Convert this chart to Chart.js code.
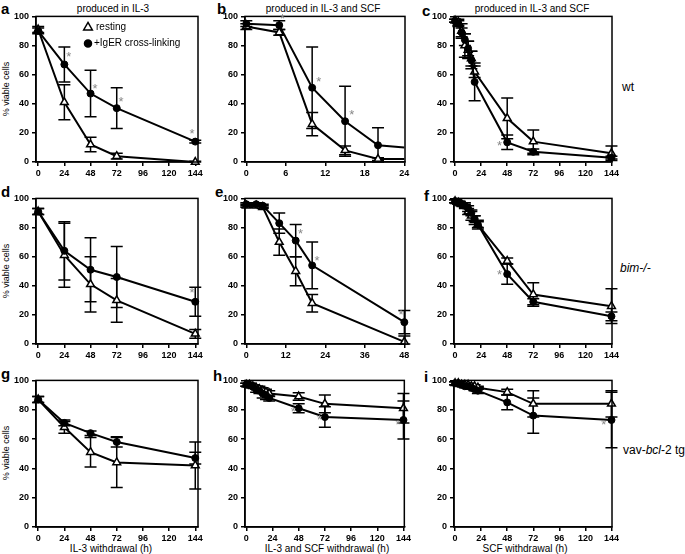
<!DOCTYPE html>
<html>
<head>
<meta charset="utf-8">
<script src="https://cdn.jsdelivr.net/npm/chart.js@4.4.1/dist/chart.umd.min.js"></script>
<style>
body{margin:0;background:#fff;width:685px;height:554px;position:relative;overflow:hidden;font-family:"Liberation Sans",Arial,sans-serif;color:#000}
canvas{position:absolute}
.t{position:absolute;white-space:nowrap;font-size:10px;line-height:11px}
.lab{position:absolute;font-size:15px;font-weight:bold;line-height:15px}
.yt{position:absolute;white-space:nowrap;font-size:9px;line-height:10px;transform:translate(-50%,-50%) rotate(-90deg)}
</style>
</head>
<body>

<div class="lab" style="left:1px;top:1px">a</div>
<div class="lab" style="left:217px;top:1px">b</div>
<div class="lab" style="left:422px;top:3px">c</div>
<div class="lab" style="left:1px;top:184px">d</div>
<div class="lab" style="left:215px;top:184px">e</div>
<div class="lab" style="left:424px;top:188px">f</div>
<div class="lab" style="left:1px;top:366px">g</div>
<div class="lab" style="left:213px;top:368px">h</div>
<div class="lab" style="left:424px;top:369px">i</div>

<div class="t" style="left:113px;top:3px;transform:translateX(-50%)">produced in IL-3</div>
<div class="t" style="left:323px;top:3px;transform:translateX(-50%)">produced in IL-3 and SCF</div>
<div class="t" style="left:532px;top:3px;transform:translateX(-50%)">produced in IL-3 and SCF</div>

<div class="yt" style="left:6px;top:89px">% viable cells</div>
<div class="yt" style="left:6px;top:271px">% viable cells</div>
<div class="yt" style="left:6px;top:453px">% viable cells</div>

<div class="t" style="left:111px;top:543px;transform:translateX(-50%)">IL-3 withdrawal (h)</div>
<div class="t" style="left:327px;top:543px;transform:translateX(-50%)">IL-3 and SCF withdrawal (h)</div>
<div class="t" style="left:525px;top:543px;transform:translateX(-50%)">SCF withdrawal (h)</div>

<div class="t" style="left:622px;top:81px;font-size:12px;line-height:13px">wt</div>
<div class="t" style="left:620px;top:262px;font-size:12px;line-height:13px;font-style:italic">bim-/-</div>
<div class="t" style="left:623px;top:444px;font-size:12px;line-height:13px">vav-<i>bcl</i>-2 tg</div>

<script>
// tick labels
const xTicks144 = [0, 24, 48, 72, 96, 120, 144];
const xTicks24 = [0, 6, 12, 18, 24];
const xTicks48 = [0, 12, 24, 36, 48];
const yTicks = [0, 20, 40, 60, 80, 100];

// a - wt, IL-3
const aX = [0, 24, 48, 72, 144];
const aRest = [91, 41, 12, 4, 0];
const aRestErr = [2, 12, 5, 2, 0.5];
const aIgE = [90, 67, 47, 37, 14];
const aIgEErr = [2, 12, 16, 14, 1];
const aStars = [[28, 74], [52, 52], [76, 43], [141, 21]];

// b - wt, IL-3 + SCF (0-24 h)
const bX = [0, 5, 10, 15, 20, 24];
const bRest = [93, 89, 26, 8, 2, 2];
const bRestErr = [2, 2, 8, 3, 1, 0];
const bIgE = [95, 94, 51, 28, 11.5, 10];
const bIgEErr = [2, 3, 28, 24, 12, 0];
const bStars = [[5.5, 100], [11, 57], [16, 34]];

// c - wt, IL-3 + SCF (0-144 h)
const cX = [0, 3, 6, 9, 12, 15, 18, 48, 72, 144];
const cRest = [97, 96, 90, 80, 77, 71, 62, 30, 14, 6];
const cRestErr = [1, 2, 5, 8, 6, 5, 4, 14, 8, 5];
const cIgE = [97, 95, 89, 84, 78, 70, 55, 13.5, 7, 3];
const cIgEErr = [1, 2, 3, 4, 5, 6, 13, 5, 2, 1];
const cStars = [[41, 13]];

// d - bim-/-, IL-3
const dX = [0, 24, 48, 72, 144];
const dRest = [91, 61, 41, 30, 7];
const dRestErr = [2, 22, 19, 15, 3];
const dIgE = [91, 64, 51, 46, 29];
const dIgEErr = [2, 20, 22, 21, 10];
const dStars = [[141, 37]];

// e - bim-/-, IL-3 + SCF (0-48 h)
const eX = [0, 3, 5, 10, 15, 20, 48];
const eRest = [95, 95, 94, 70, 50, 28, 1.5];
const eRestErr = [1, 1, 1, 9, 10, 6, 4];
const eIgE = [96, 96, 95, 83, 71, 54, 15];
const eIgEErr = [1, 1, 1, 7, 11, 16, 8];
const eStars = [[16.5, 77], [21.5, 59], [47, 22]];

// f - bim-/-, SCF
const fX = [0, 3, 6, 9, 12, 15, 18, 21, 48, 72, 144];
const fRest = [98, 97, 96, 95, 91, 88, 85, 82, 57, 34, 26];
const fRestErr = [1, 1, 1, 2, 2, 3, 3, 3, 2, 8, 12];
const fIgE = [98, 97, 96, 95, 93, 90, 86, 82, 48, 29, 19];
const fIgEErr = [1, 1, 1, 1, 2, 2, 2, 2, 7, 2, 3];
const fStars = [[41, 49]];

// g - vav-bcl-2, IL-3
const gX = [0, 24, 48, 72, 144];
const gRest = [87, 68, 51, 44, 42];
const gRestErr = [2, 4, 10, 17, 16];
const gIgE = [87, 71, 64, 58, 47];
const gIgEErr = [2, 2, 1.5, 3.5, 4];
const gStars = [];

// h - vav-bcl-2, IL-3 + SCF
const hX = [0, 3, 6, 9, 12, 15, 18, 21, 48, 72, 144];
const hRest = [97, 97, 96, 95, 94, 93, 92, 91, 89, 84, 81];
const hRestErr = [1, 1, 1, 1, 2, 2, 2, 2, 2.5, 6, 10];
const hIgE = [97, 97, 96, 94, 93, 91, 90, 88, 81, 75, 73];
const hIgEErr = [1, 1, 1, 2, 2, 3, 3, 2, 3, 7, 13];
const hStars = [[43, 80], [67, 75], [139, 71]];

// i - vav-bcl-2, SCF
const iX = [0, 3, 6, 9, 12, 15, 18, 21, 48, 72, 144];
const iRest = [98, 98, 97, 97, 97, 96, 96, 95, 92, 84, 84];
const iRestErr = [1, 1, 1, 1, 1, 1, 1, 1, 2, 9, 9];
const iIgE = [98, 98, 97, 96, 96, 95, 94, 93, 85, 76, 73];
const iIgEErr = [1, 1, 1, 1, 1, 1, 1, 2, 5, 12, 19];
const iStars = [[137, 71]];

Chart.defaults.font.family = '"Liberation Sans", Arial, sans-serif';
Chart.defaults.font.size = 10;
Chart.defaults.color = '#000';

// error bars, drawn under the markers
const errorBars = {
  id: 'errorBars',
  beforeDatasetsDraw(chart) {
    const ctx = chart.ctx, xs = chart.scales.x, ys = chart.scales.y;
    ctx.save();
    ctx.strokeStyle = '#000';
    ctx.lineWidth = 1.5;
    chart.data.datasets.forEach(ds => {
      if (!ds.err) return;
      ds.data.forEach((p, i) => {
        const e = ds.err[i];
        if (!e) return;
        const x = xs.getPixelForValue(p.x);
        const y1 = ys.getPixelForValue(Math.min(100, p.y + e));
        const y2 = ys.getPixelForValue(Math.max(0, p.y - e));
        ctx.beginPath();
        ctx.moveTo(x, y1); ctx.lineTo(x, y2);
        ctx.moveTo(x - 6, y1); ctx.lineTo(x + 6, y1);
        ctx.moveTo(x - 6, y2); ctx.lineTo(x + 6, y2);
        ctx.stroke();
      });
    });
    ctx.restore();
  }
};

// box frame, asterisks and the legend of panel a
const extras = {
  id: 'extras',
  afterDraw(chart, args, opts) {
    const ctx = chart.ctx, a = chart.chartArea;
    const xs = chart.scales.x, ys = chart.scales.y;
    ctx.save();
    ctx.strokeStyle = '#000';
    ctx.lineWidth = 1.5;
    ctx.strokeRect(a.left, a.top, a.right - a.left, a.bottom - a.top);
    ctx.fillStyle = '#888';
    ctx.font = '13px "Liberation Sans", Arial';
    ctx.textAlign = 'center';
    ctx.textBaseline = 'middle';
    (opts.stars || []).forEach(s => {
      ctx.fillText('*', xs.getPixelForValue(s[0]), ys.getPixelForValue(s[1]) + 3);
    });
    if (opts.legend) {
      const lx = a.left + 52, ly = a.top + 11;
      ctx.fillStyle = '#fff';
      ctx.lineWidth = 1.5;
      Chart.helpers.drawPoint(ctx, {pointStyle: 'triangle', radius: 5, rotation: 0, borderWidth: 1.5}, lx, ly);
      ctx.fillStyle = '#000';
      Chart.helpers.drawPoint(ctx, {pointStyle: 'circle', radius: 3.5, rotation: 0, borderWidth: 1}, lx, ly + 16);
      ctx.font = '10px "Liberation Sans", Arial';
      ctx.textAlign = 'left';
      ctx.fillText('resting', lx + 8, ly);
      ctx.fillText('+IgER cross-linking', lx + 6, ly + 16);
    }
    ctx.restore();
  }
};

function pts(xs, ys) {
  return xs.map((x, i) => ({x: x, y: ys[i]}));
}

function panel(box, xMin, xMax, ticks, xs, rest, restErr, ige, igeErr, stars, legend, edgeX) {
  const cv = document.createElement('canvas');
  const padL = 37, padT = 8, padR = 8, padB = 22;
  cv.width = box.w + padL + padR;
  cv.height = box.h + padT + padB;
  cv.style.left = (box.left - padL) + 'px';
  cv.style.top = (box.top - padT) + 'px';
  document.body.appendChild(cv);
  const radius = (r) => (c) => (edgeX !== undefined && c.raw && c.raw.x === edgeX ? 0 : r);
  const tickFont = {size: 9, weight: 'bold'};
  new Chart(cv, {
    type: 'scatter',
    data: {
      datasets: [
        {
          data: pts(xs, ige), err: igeErr, showLine: true,
          borderColor: '#000', borderWidth: 2,
          pointStyle: 'circle', pointRadius: radius(3.5),
          pointBackgroundColor: '#000', pointBorderColor: '#000', pointBorderWidth: 1,
          clip: false
        },
        {
          data: pts(xs, rest), err: restErr, showLine: true,
          borderColor: '#000', borderWidth: 2,
          pointStyle: 'triangle', pointRadius: radius(4.5),
          pointBackgroundColor: '#fff', pointBorderColor: '#000', pointBorderWidth: 1.5,
          clip: false
        }
      ]
    },
    options: {
      responsive: false,
      animation: false,
      events: [],
      layout: {autoPadding: false, padding: {left: 0, top: padT, right: padR, bottom: 0}},
      plugins: {legend: {display: false}, tooltip: {enabled: false}, extras: {stars: stars, legend: legend}},
      scales: {
        x: {
          type: 'linear', min: xMin, max: xMax,
          afterBuildTicks: (s) => { s.ticks = ticks.map(v => ({value: v})); },
          afterFit: (s) => { s.height = padB; },
          grid: {drawOnChartArea: false, drawTicks: true, tickLength: 4, color: '#000', lineWidth: 1.5},
          border: {display: true, color: '#000', width: 1.5},
          ticks: {padding: 2, maxRotation: 0, autoSkip: false, color: '#000', font: tickFont}
        },
        y: {
          min: 0, max: 100,
          afterBuildTicks: (s) => { s.ticks = yTicks.map(v => ({value: v})); },
          afterFit: (s) => { s.width = padL; },
          grid: {drawOnChartArea: false, drawTicks: true, tickLength: 4, color: '#000', lineWidth: 1.5},
          border: {display: true, color: '#000', width: 1.5},
          ticks: {padding: 3, color: '#000', font: tickFont}
        }
      }
    },
    plugins: [errorBars, extras]
  });
}

const col1 = {left: 36, w: 162}, col2 = {left: 245, w: 160}, col3 = {left: 454, w: 159};
const row1 = {top: 16, h: 146}, row2 = {top: 198, h: 146}, row3 = {top: 380, h: 147};
const B = (c, r) => ({left: c.left, w: c.w, top: r.top, h: r.h});

panel(B(col1, row1), -2, 146.5, xTicks144, aX, aRest, aRestErr, aIgE, aIgEErr, aStars, true);
panel(B(col2, row1), -0.2, 24.1, xTicks24, bX, bRest, bRestErr, bIgE, bIgEErr, bStars, false, 24);
panel(B(col3, row1), -1, 144.5, xTicks144, cX, cRest, cRestErr, cIgE, cIgEErr, cStars, false);
panel(B(col1, row2), -2, 146.5, xTicks144, dX, dRest, dRestErr, dIgE, dIgEErr, dStars, false);
panel(B(col2, row2), -0.4, 48.2, xTicks48, eX, eRest, eRestErr, eIgE, eIgEErr, eStars, false);
panel(B(col3, row2), -1, 144.5, xTicks144, fX, fRest, fRestErr, fIgE, fIgEErr, fStars, false);
panel(B(col1, row3), -2, 146.5, xTicks144, gX, gRest, gRestErr, gIgE, gIgEErr, gStars, false);
panel(B(col2, row3), -1.2, 144.8, xTicks144, hX, hRest, hRestErr, hIgE, hIgEErr, hStars, false);
panel(B(col3, row3), -1, 144.5, xTicks144, iX, iRest, iRestErr, iIgE, iIgEErr, iStars, false);
</script>
</body>
</html>
